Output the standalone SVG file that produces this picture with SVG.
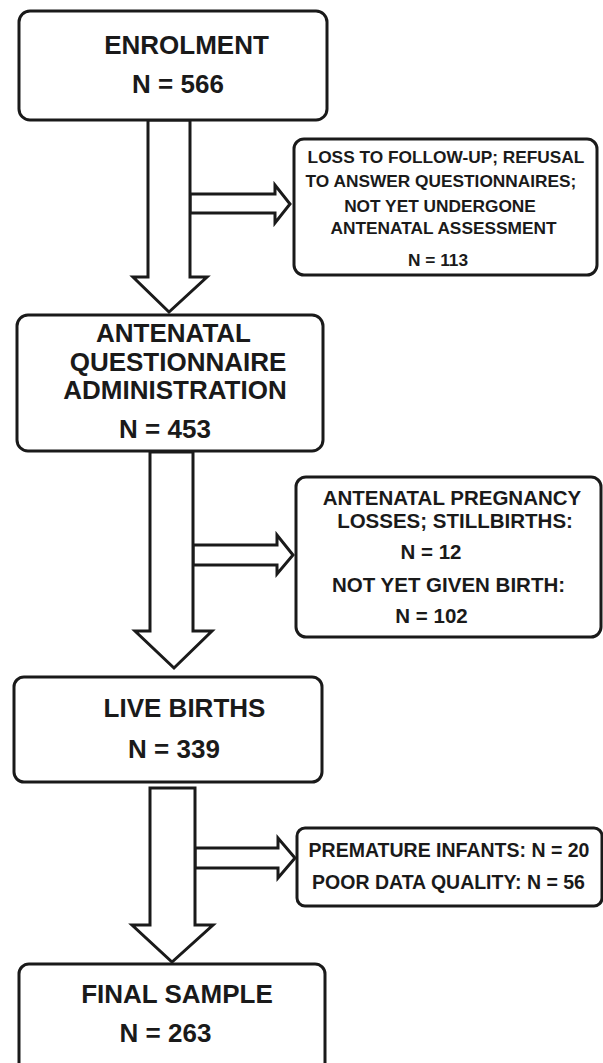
<svg xmlns="http://www.w3.org/2000/svg" width="603" height="1063" viewBox="0 0 603 1063">
<style>
.box{fill:#fff;stroke:#1a1a1a;stroke-width:3}
.arr{fill:#fff;stroke:#1a1a1a;stroke-width:3;stroke-linejoin:miter}
text{font-family:"Liberation Sans",Arial,sans-serif;font-weight:bold;fill:#1a1a1a;text-anchor:middle}
.m{font-size:26px}
.s1{font-size:17.3px}
.s2{font-size:20.5px}
.s3{font-size:19.5px}
</style>
<rect width="603" height="1063" fill="#fff"/>
<g id="connectors">
<polygon class="arr" points="190,194 275,194 275,185 290,204 275,223 275,213 190,213"/>
<polygon class="arr" points="148,120 190,120 190,277 207,277 169,312 133,277 148,277"/>
<polygon class="arr" points="193,545 277,545 277,535 293,555 277,574 277,565 193,565"/>
<polygon class="arr" points="150,452 193,452 193,631 212,631 174,668 135,631 150,631"/>
<polygon class="arr" points="195,848 278,848 278,838 295,858 278,878 278,868 195,868"/>
<polygon class="arr" points="150,788 195,788 195,925 213,925 172,962 132,925 150,925"/>
</g>
<g id="enrolment">
<rect class="box" x="19" y="11" width="308" height="109" rx="11"/>
<text class="m" x="186.5" y="54">ENROLMENT</text>
<text class="m" x="178" y="93">N = 566</text>
</g>
<g id="loss">
<rect class="box" x="294" y="139" width="303" height="136" rx="10"/>
<text class="s1" x="446" y="163">LOSS TO FOLLOW-UP; REFUSAL</text>
<text class="s1" x="441" y="187">TO ANSWER QUESTIONNAIRES;</text>
<text class="s1" x="440" y="212">NOT YET UNDERGONE</text>
<text class="s1" x="443.5" y="234">ANTENATAL ASSESSMENT</text>
<text class="s1" x="438" y="266">N = 113</text>
</g>
<g id="antenatal">
<rect class="box" x="17" y="315" width="306" height="136" rx="11"/>
<text class="m" x="173.5" y="342">ANTENATAL</text>
<text class="m" x="178" y="371">QUESTIONNAIRE</text>
<text class="m" x="175" y="399">ADMINISTRATION</text>
<text class="m" x="165" y="438">N = 453</text>
</g>
<g id="pregnancy-losses">
<rect class="box" x="296" y="477" width="305" height="160" rx="10"/>
<text class="s2" x="452" y="505">ANTENATAL PREGNANCY</text>
<text class="s2" x="455" y="528">LOSSES; STILLBIRTHS:</text>
<text class="s2" x="431" y="559">N = 12</text>
<text class="s2" x="448.5" y="592">NOT YET GIVEN BIRTH:</text>
<text class="s2" x="431.5" y="623">N = 102</text>
</g>
<g id="live-births">
<rect class="box" x="14" y="677" width="308" height="105" rx="10"/>
<text class="m" x="184.5" y="717">LIVE BIRTHS</text>
<text class="m" x="174" y="758">N = 339</text>
</g>
<g id="excluded">
<rect class="box" x="297" y="828" width="305" height="78" rx="8"/>
<text class="s3" x="449" y="857">PREMATURE INFANTS: N = 20</text>
<text class="s3" x="448.5" y="889">POOR DATA QUALITY: N = 56</text>
</g>
<g id="final-sample">
<rect class="box" x="19" y="964" width="306" height="120" rx="10"/>
<text class="m" x="177" y="1003">FINAL SAMPLE</text>
<text class="m" x="165.5" y="1042">N = 263</text>
</g>
</svg>
